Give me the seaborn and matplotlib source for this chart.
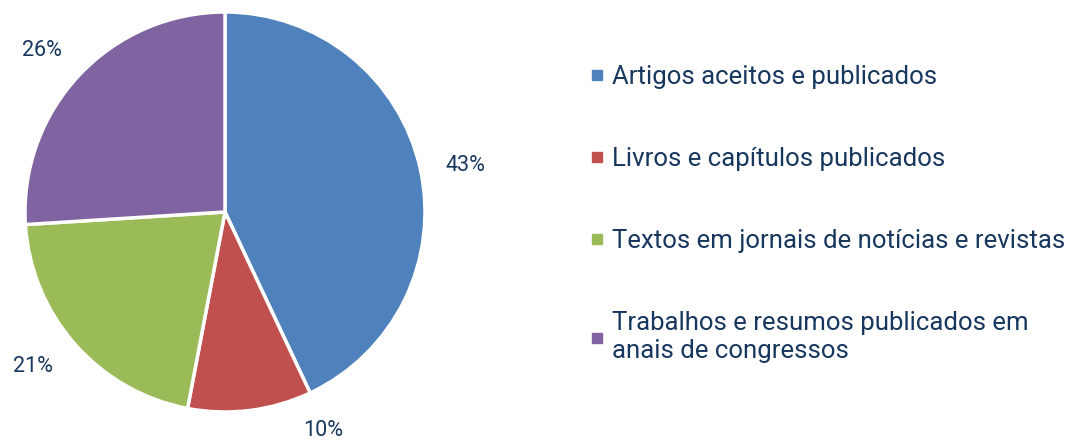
import matplotlib
matplotlib.use("Agg")
import matplotlib.pyplot as plt
import seaborn as sns
from matplotlib.lines import Line2D

categories = [
    "Artigos aceitos e publicados",
    "Livros e capítulos publicados",
    "Textos em jornais de notícias e revistas",
    "Trabalhos e resumos publicados em\nanais de congressos",
]
shares = [43, 10, 21, 26]
colors = ["#4F81BD", "#C0504D", "#9BBB59", "#8064A2"]
text_color = "#17375E"

sns.set_theme(style="white")
plt.rcParams["font.family"] = ["Roboto", "DejaVu Sans"]

fig = plt.figure(figsize=(10.87, 4.41), dpi=100)
# axes spans the left 450 px, pie radius ~200 px
ax = fig.add_axes([0, 0, 450 / 1087, 1])

wedges, texts, autotexts = ax.pie(
    shares, colors=colors, startangle=90, counterclock=False,
    autopct="%1.0f%%", pctdistance=1.2,
    wedgeprops=dict(edgecolor="white", linewidth=2.5),
    textprops=dict(color=text_color, fontsize=15.5),
)
ax.set_xlim(-1.125, 1.125)
ax.set_ylim(-1.145, 1.06)
ax.set_aspect("auto")
ax.axis("off")

# label placement as in the original (Excel-style offsets)
label_pos = [(1.2, 0.235), (0.49, -1.09), (-0.96, -0.775), (-0.915, 0.81)]
for t, p in zip(autotexts, label_pos):
    t.set_position(p)
    t.set_ha("center")
    t.set_va("center")

handles = [Line2D([0], [0], marker="s", linestyle="none", markersize=7,
                  markerfacecolor=c, markeredgecolor=c) for c in colors]
leg = fig.legend(handles, categories, loc="upper left",
                 bbox_to_anchor=(580 / 1087, 1 - 55 / 441),
                 frameon=False, fontsize=18.5, handlelength=0.5,
                 handletextpad=0.35, labelspacing=2.25, borderaxespad=0)
for t in leg.get_texts():
    t.set_color(text_color)
    t.set_linespacing(1.25)

fig.savefig("out.png", dpi=100, facecolor="white")
